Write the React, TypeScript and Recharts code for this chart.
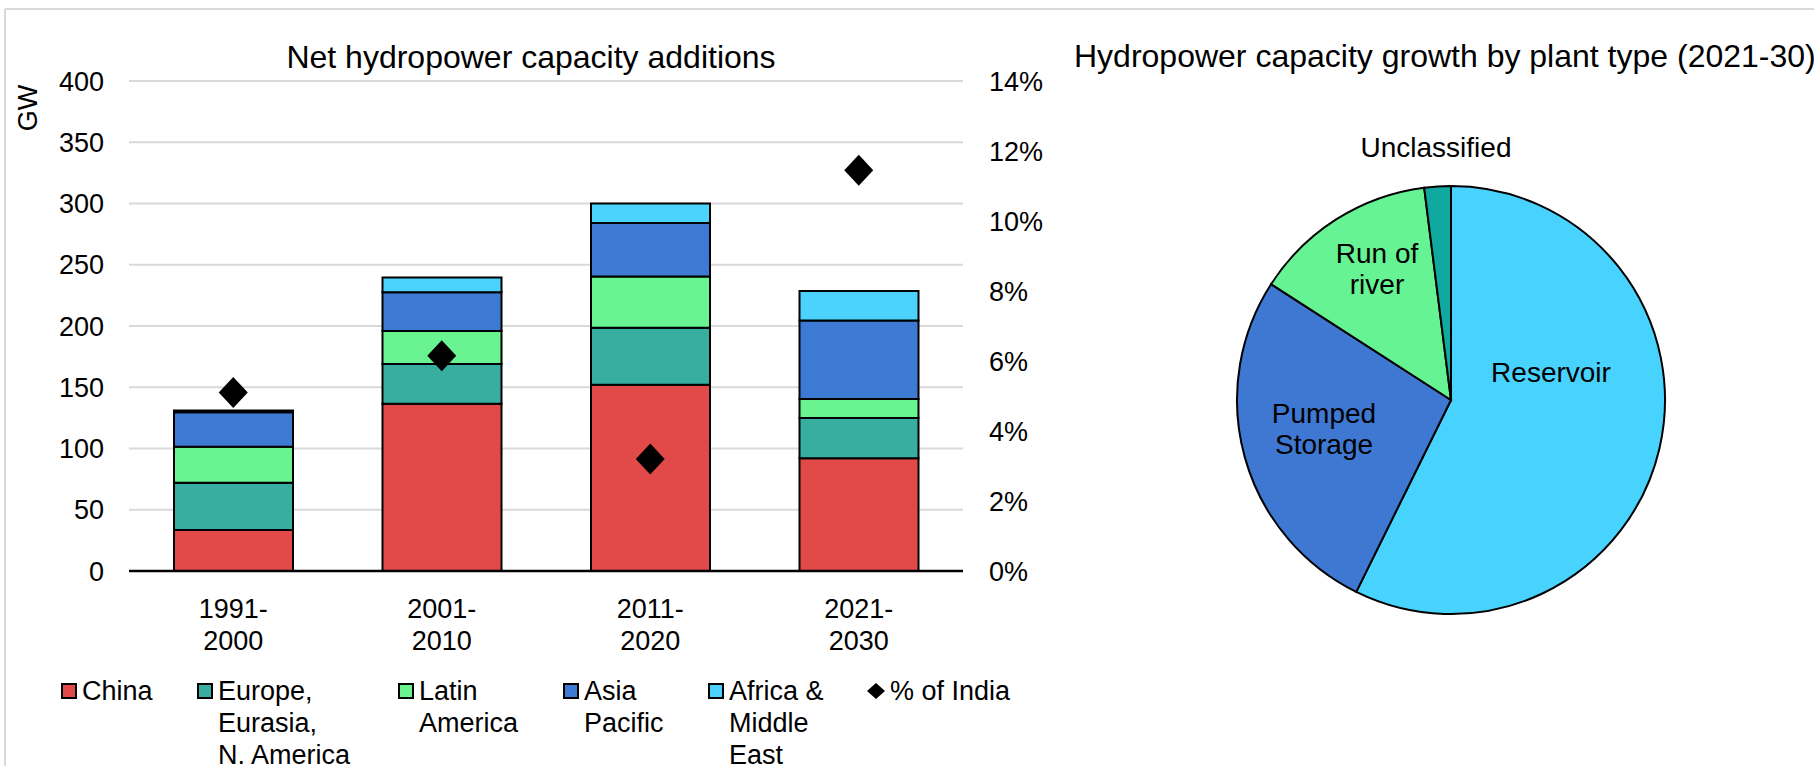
import React from 'react';
import { ComposedChart, Bar, Scatter, XAxis, YAxis, CartesianGrid, PieChart, Pie, Cell } from 'recharts';

// ---- data ----
const periods = ['1991-2000', '2001-2010', '2011-2020', '2021-2030'];
const china = [33.5, 136.5, 152, 92];
const europe = [38.5, 32.5, 46.5, 33];
const latin = [29.5, 27, 42, 15.5];
const asia = [28, 31.5, 43.5, 64];
const africa = [1.5, 12, 16, 24];
const indiaShare = [5.1, 6.15, 3.2, 11.45];
const gwTicks = [0, 50, 100, 150, 200, 250, 300, 350, 400];
const pctTicks = [0, 2, 4, 6, 8, 10, 12, 14];

const seriesKeys = ['china', 'europe', 'latin', 'asia', 'africa'];
const seriesValues = [china, europe, latin, asia, africa];
const seriesColors = ['#E24A4A', '#38AEA0', '#69F391', '#3D7AD3', '#4BD3FE'];
const legendLabels = [
  ['China'],
  ['Europe,', 'Eurasia,', 'N. America'],
  ['Latin', 'America'],
  ['Asia', 'Pacific'],
  ['Africa &', 'Middle', 'East'],
  ['% of India'],
];

const plantTypes = ['Reservoir', 'Pumped Storage', 'Run of river', 'Unclassified'];
const plantShares = [57.3, 26.8, 13.9, 2.0];
const plantColors = ['#48D3FF', '#3F78D2', '#66F393', '#10A99F'];
const plantLabelLines = [['Reservoir'], ['Pumped', 'Storage'], ['Run of', 'river'], ['Unclassified']];

const FONT = '"Liberation Sans", Arial, sans-serif';

const barData = periods.map((p, i) => {
  const row: any = { period: p, india: indiaShare[i] };
  seriesKeys.forEach((k, j) => (row[k] = seriesValues[j][i]));
  return row;
});
const pieData = plantTypes.map((n, i) => ({ name: n, value: plantShares[i] }));

const XTick = (props: any) => {
  const { x, y, payload } = props;
  const idx = payload.value.indexOf('-');
  const a = payload.value.slice(0, idx + 1);
  const b = payload.value.slice(idx + 1);
  return (
    <text x={x} y={y} textAnchor="middle" fontSize={27} fill="#000" fontFamily={FONT}>
      <tspan x={x} dy={47}>{a}</tspan>
      <tspan x={x} dy={32}>{b}</tspan>
    </text>
  );
};

const Diamond = (props: any) => {
  const { cx, cy } = props;
  if (cx == null || cy == null) return null;
  return <polygon points={`${cx},${cy - 15.5} ${cx + 14.5},${cy} ${cx},${cy + 15.5} ${cx - 14.5},${cy}`} fill="#000" />;
};

// layout of pie labels relative to pie centre (first-line baseline)
const pieLabelOffsets = [
  { dx: 100, dy: -18 },
  { dx: -127, dy: 23 },
  { dx: -74, dy: -137 },
  { dx: -15, dy: -243 },
];

const PieLabel = (props: any) => {
  const { cx, cy, index } = props;
  const off = pieLabelOffsets[index];
  const lines = plantLabelLines[index];
  return (
    <text x={cx + off.dx} y={cy + off.dy} textAnchor="middle" fontSize={28} fill="#000" fontFamily={FONT}>
      {lines.map((l, i) => (
        <tspan key={i} x={cx + off.dx} dy={i === 0 ? 0 : 31}>{l}</tspan>
      ))}
    </text>
  );
};

const legendX = [61, 197, 398, 563, 708, 867];

export default function App() {
  return (
    <div style={{ position: 'absolute', left: 0, top: 0, width: 1814, height: 766, background: '#fff', fontFamily: FONT, overflow: 'hidden' }}>
      <div style={{ position: 'absolute', left: 0, top: 0 }}>
        <ComposedChart width={1060} height={766} data={barData} margin={{ top: 81, right: 0, bottom: 115, left: 0 }}>
          <CartesianGrid yAxisId="left" vertical={false} stroke="#D9D9D9" strokeWidth={2} />
          <XAxis
            dataKey="period"
            height={80}
            axisLine={{ stroke: '#000', strokeWidth: 2.5 }}
            tickLine={false}
            tickSize={0}
            tickMargin={0}
            tick={<XTick />}
            interval={0}
          />
          <YAxis
            yAxisId="left"
            width={129}
            domain={[0, 400]}
            ticks={gwTicks}
            axisLine={false}
            tickLine={false}
            tickSize={0}
            tickMargin={25}
            tick={{ fontSize: 27, fill: '#000', fontFamily: FONT }}
          />
          <YAxis
            yAxisId="right"
            orientation="right"
            width={97}
            domain={[0, 14]}
            ticks={pctTicks}
            tickFormatter={(v: number) => `${v}%`}
            axisLine={false}
            tickLine={false}
            tickSize={0}
            tickMargin={26}
            tick={{ fontSize: 27, fill: '#000', fontFamily: FONT, textAnchor: 'start' }}
          />
          {seriesKeys.map((k, i) => (
            <Bar
              key={k}
              yAxisId="left"
              dataKey={k}
              stackId="s"
              fill={seriesColors[i]}
              stroke="#000"
              strokeWidth={2}
              barSize={119}
              isAnimationActive={false}
            />
          ))}
          <Scatter yAxisId="right" dataKey="india" fill="#000" shape={<Diamond />} isAnimationActive={false} />
        </ComposedChart>
      </div>

      <div style={{ position: 'absolute', left: 1060, top: 0 }}>
        <PieChart width={754} height={766} margin={{ top: 0, right: 0, bottom: 0, left: 0 }}>
          <Pie
            data={pieData}
            dataKey="value"
            nameKey="name"
            cx={391}
            cy={400}
            outerRadius={214}
            startAngle={90}
            endAngle={-270}
            stroke="#000"
            strokeWidth={2}
            label={<PieLabel />}
            labelLine={false}
            isAnimationActive={false}
          >
            {pieData.map((d, i) => (
              <Cell key={d.name} fill={plantColors[i]} />
            ))}
          </Pie>
        </PieChart>
      </div>

      <svg width={1814} height={766} style={{ position: 'absolute', left: 0, top: 0, pointerEvents: 'none' }} fontFamily={FONT}>
        <line x1={5} y1={9} x2={1814} y2={9} stroke="#D9D9D9" strokeWidth={2} />
        <line x1={5} y1={9} x2={5} y2={766} stroke="#D9D9D9" strokeWidth={2} />
        <text x={531} y={68} textAnchor="middle" fontSize={32} fill="#000">Net hydropower capacity additions</text>
        <text x={1074} y={67} textAnchor="start" fontSize={32} fill="#000">Hydropower capacity growth by plant type (2021-30)</text>
        <text x={37} y={108} textAnchor="middle" fontSize={27} fill="#000" transform="rotate(-90 37 108)">GW</text>
        {legendLabels.map((lines, i) => {
          const x = legendX[i];
          const isDiamond = i === legendLabels.length - 1;
          return (
            <g key={i}>
              {isDiamond ? (
                <polygon points={`${x + 9},${683} ${x + 18},${691} ${x + 9},${699} ${x},${691}`} fill="#000" />
              ) : (
                <rect x={x + 1} y={684} width={14} height={14} fill={seriesColors[i]} stroke="#000" strokeWidth={2} />
              )}
              <text x={x + (isDiamond ? 23 : 21)} y={700} fontSize={27} fill="#000">
                {lines.map((l, j) => (
                  <tspan key={j} x={x + (isDiamond ? 23 : 21)} dy={j === 0 ? 0 : 32}>{l}</tspan>
                ))}
              </text>
            </g>
          );
        })}
      </svg>
    </div>
  );
}
